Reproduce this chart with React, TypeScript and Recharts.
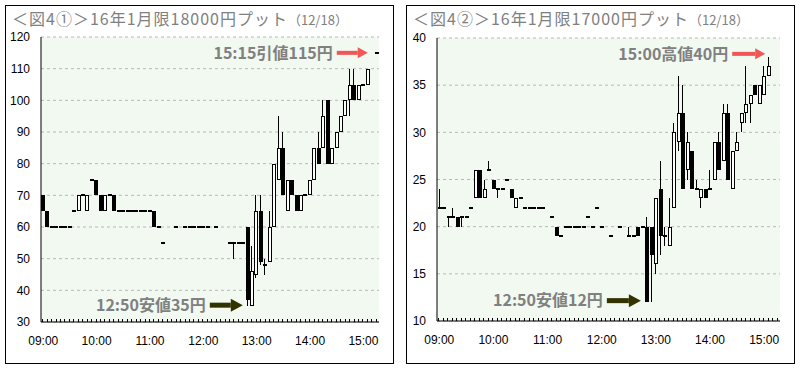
import React from "react";
import {
  ComposedChart,
  Bar,
  XAxis,
  YAxis,
  CartesianGrid,
  ReferenceDot,
} from "recharts";

// 5-minute bars, 09:00 - 15:15
const times = [
  "09:00", "09:05", "09:10", "09:15", "09:20", "09:25", "09:30", "09:35", "09:40", "09:45", "09:50", "09:55",
  "10:00", "10:05", "10:10", "10:15", "10:20", "10:25", "10:30", "10:35", "10:40", "10:45", "10:50", "10:55",
  "11:00", "11:05", "11:10", "11:15", "11:20", "11:25", "11:30", "11:35", "11:40", "11:45", "11:50", "11:55",
  "12:00", "12:05", "12:10", "12:15", "12:20", "12:25", "12:30", "12:35", "12:40", "12:45", "12:50", "12:55",
  "13:00", "13:05", "13:10", "13:15", "13:20", "13:25", "13:30", "13:35", "13:40", "13:45", "13:50", "13:55",
  "14:00", "14:05", "14:10", "14:15", "14:20", "14:25", "14:30", "14:35", "14:40", "14:45", "14:50", "14:55",
  "15:00", "15:05", "15:10", "15:15",
];

type OHLC = [number, number, number, number] | null; // open, high, low, close

// <図4①> 16年1月限18000円プット
const put18000: OHLC[] = [
  [70, 70, 65, 65], [65, 65, 60, 60], [60, 60, 60, 60], [60, 60, 60, 60], [60, 60, 60, 60], [60, 60, 60, 60],
  [60, 60, 60, 60], [65, 65, 65, 65], [65, 70, 65, 70], [70, 70, 70, 70], [65, 70, 65, 70], [75, 75, 75, 75],
  [75, 75, 70, 70], [70, 70, 65, 65], [65, 70, 65, 70], [70, 70, 70, 70], [70, 70, 65, 65], [65, 65, 65, 65],
  [65, 65, 65, 65], [65, 65, 65, 65], [65, 65, 65, 65], [65, 65, 65, 65], [65, 65, 65, 65], [65, 65, 65, 65],
  [65, 65, 65, 65], [65, 65, 60, 60], [60, 60, 60, 60], [55, 55, 55, 55], null, null,
  [60, 60, 60, 60], null, [60, 60, 60, 60], [60, 60, 60, 60], [60, 60, 60, 60], [60, 60, 60, 60],
  [60, 60, 60, 60], [60, 60, 60, 60], null, [60, 60, 60, 60], null, null,
  [55, 55, 55, 55], [55, 55, 50, 55], [55, 55, 55, 55], [55, 55, 55, 55], [60, 60, 35, 37], [35, 54, 35, 46],
  [45, 70, 44, 65], [65, 70, 48, 49], [48, 50, 45, 48], [49, 65, 49, 60], [60, 80, 60, 80], [75, 95, 75, 85],
  [85, 90, 70, 70], [65, 75, 65, 75], [75, 75, 70, 70], [70, 70, 65, 65], [65, 70, 65, 70], [70, 70, 70, 70],
  [70, 75, 70, 75], [75, 85, 75, 85], [85, 90, 80, 80], [85, 100, 85, 95], [100, 100, 80, 80], [80, 85, 80, 85],
  [85, 90, 85, 90], [90, 95, 90, 95], [95, 100, 95, 100], [100, 110, 95, 105], [105, 110, 100, 100], [100, 105, 100, 105],
  [105, 105, 105, 105], [105, 110, 105, 110], null, [115, 115, 115, 115],
];

// <図4②> 16年1月限17000円プット
const put17000: OHLC[] = [
  [22, 24, 22, 22], [22, 22, 22, 22], [21, 21, 20, 21], [21, 22, 21, 21], [21, 21, 20, 20], [21, 21, 20, 21],
  [21, 21, 21, 21], [22, 22, 22, 22], [23, 26, 23, 26], [26, 26, 23, 23], [23, 25, 23, 24], [26, 27, 26, 26],
  [25, 25, 24, 24], [24, 24, 23, 24], [24, 24, 24, 24], [25, 25, 25, 25], [24, 24, 23, 23], [22, 23, 22, 23],
  [23, 23, 23, 23], [22, 22, 22, 22], [22, 22, 22, 22], [22, 22, 22, 22], [22, 22, 22, 22], [22, 22, 22, 22],
  null, [21, 21, 21, 21], [20, 20, 19, 19], [19, 19, 19, 19], [20, 20, 20, 20], [20, 20, 20, 20],
  [20, 20, 20, 20], [20, 20, 20, 20], [20, 20, 20, 20], [21, 21, 21, 21], [20, 20, 20, 20], [22, 22, 22, 22],
  [20, 20, 20, 20], null, [19, 19, 19, 19], null, [20, 20, 20, 20], null,
  [19, 20, 19, 19], [19, 19, 19, 19], [20, 20, 19, 19], [20, 20, 20, 20], [20, 21, 12, 12], [20, 20, 12, 17],
  [16, 23, 15, 23], [24, 27, 17, 19], [19, 20, 18, 19], [18, 23, 18, 20], [22, 31, 22, 30], [29, 36, 28, 32],
  [32, 35, 24, 24], [26, 30, 25, 29], [28, 28, 24, 24], [24, 25, 24, 24], [23, 24, 22, 24], [24, 24, 23, 23],
  [24, 26, 24, 24], [25, 29, 25, 29], [29, 30, 26, 26], [27, 33, 27, 32], [32, 33, 25, 25], [24, 28, 24, 28],
  [28, 30, 28, 29], [31, 32, 30, 32], [32, 37, 31, 33], [33, 34, 31, 34], [35, 35, 34, 34], [33, 35, 33, 35],
  [34, 37, 34, 36], [36, 38, 36, 37], null, null,
];

const ticks18000 = [30, 40, 50, 60, 70, 80, 90, 100, 110, 120];
const ticks17000 = [10, 15, 20, 25, 30, 35, 40];

const labelFont = "'Liberation Sans', Arial, sans-serif";
const jpFont = "'Noto Sans CJK JP', sans-serif";

const toRows = (ohlc: OHLC[]) =>
  times.map((t, i) => {
    const v = ohlc[i];
    return v ? { t, o: v[0], h: v[1], l: v[2], c: v[3], range: [v[2], v[1]] } : { t };
  });

const Candle = (props: any) => {
  const { x, y, width, height, payload } = props;
  if (!payload || payload.o == null || !isFinite(y)) return <g />;
  const { o, h, l, c } = payload;
  const cx = Math.round(x + width / 2);
  const span = h - l;
  const py = (v: number) => (span > 0 ? y + ((h - v) / span) * height : y);
  const yh = Math.round(y);
  const yl = Math.round(y + (span > 0 ? height : 0));
  const yo = Math.round(py(o));
  const yc = Math.round(py(c));
  const top = Math.min(yo, yc);
  const bot = Math.max(yo, yc);

  if (span === 0) {
    return <rect x={cx - 2} y={yh - 1} width={4} height={2} fill="#000" shapeRendering="crispEdges" />;
  }
  return (
    <g shapeRendering="crispEdges">
      <rect x={cx - 1} y={yh} width={1} height={yl - yh} fill="#000" />
      {bot - top < 1 ? (
        <rect x={cx - 2} y={top - 1} width={4} height={2} fill="#000" />
      ) : c > o ? (
        <rect x={cx - 1.5} y={top + 0.5} width={3} height={bot - top - 1} fill="#fff" stroke="#000" strokeWidth={1} />
      ) : (
        <rect x={cx - 2} y={top} width={4} height={bot - top} fill="#000" />
      )}
    </g>
  );
};

const TimeTick = (props: any) => {
  const { x, y, payload } = props;
  const label = String(payload.value);
  const tx = Math.round(x) - 0.5;
  return (
    <g>
      <line x1={tx} x2={tx} y1={y} y2={y - 3} stroke="#000" strokeWidth={1} />
      {label.endsWith(":00") && (
        <text x={x} y={y + 19} dy="0.35em" textAnchor="middle" fontSize={12} fontFamily={labelFont} fill="#000">
          {label}
        </text>
      )}
    </g>
  );
};

interface Note {
  t: string;
  v: number;
  text: string;
  color: string;
  dx: number;
  dy: number;
  len: number;
  thick: number;
  headLen: number;
  headH: number;
}

const callout = (n: Note) => (props: any) => {
  const { cx, cy } = props;
  const tip = cx + n.dx;
  const ay = cy + n.dy;
  const start = tip - n.len;
  const neck = tip - n.headLen;
  return (
    <g>
      <rect x={start} y={ay - n.thick / 2} width={neck - start} height={n.thick} fill={n.color} />
      <polygon
        points={`${neck},${ay - n.headH / 2} ${tip},${ay} ${neck},${ay + n.headH / 2}`}
        fill={n.color}
      />
      <text
        x={start - 4}
        y={ay}
        dy="0.36em"
        textAnchor="end"
        fontSize={16}
        fontWeight="bold"
        fontFamily={jpFont}
        fill="#808080"
      >
        {n.text}
      </text>
    </g>
  );
};

const RED = "#f25757";
const OLIVE = "#333300";

const notes18000: Note[] = [
  { t: "15:15", v: 115, text: "15:15引値115円", color: RED, dx: -9, dy: 0, len: 31, thick: 4, headLen: 10, headH: 11 },
  { t: "12:50", v: 35, text: "12:50安値35円", color: OLIVE, dx: -5, dy: -1, len: 33, thick: 5, headLen: 12, headH: 13 },
];

const notes17000: Note[] = [
  { t: "15:00", v: 38, text: "15:00高値40円", color: RED, dx: 1, dy: -3, len: 33, thick: 4, headLen: 10, headH: 11 },
  { t: "12:50", v: 12, text: "12:50安値12円", color: OLIVE, dx: -6, dy: -1.5, len: 34, thick: 5, headLen: 12, headH: 13 },
];

interface PanelProps {
  left: number;
  fig: string;
  title: string;
  data: OHLC[];
  domain: [number, number];
  ticks: number[];
  yWidth: number;
  margin: { top: number; right: number; bottom: number; left: number };
  notes: Note[];
}

const Panel: React.FC<PanelProps> = ({ left, fig, title, data, domain, ticks, yWidth, margin, notes }) => (
  <div
    style={{
      position: "absolute",
      left,
      top: 5,
      width: 387,
      height: 357,
      border: "1px solid #000",
      background: "#fff",
    }}
  >
    <ComposedChart width={387} height={357} data={toRows(data)} margin={margin} barCategoryGap={0}>
      <CartesianGrid
        vertical={false}
        stroke="#b8b8b8"
        strokeDasharray="3 3"
        fill="#f1f9f1"
        fillOpacity={1}
      />
      <XAxis
        dataKey="t"
        interval={0}
        height={30}
        tickSize={0}
        tickMargin={0}
        tickLine={false}
        axisLine={{ stroke: "#000" }}
        tick={<TimeTick />}
      />
      <XAxis xAxisId="top" dataKey="t" orientation="top" height={0} tick={false} tickLine={false} axisLine={{ stroke: "#808080" }} />
      <YAxis
        domain={domain}
        ticks={ticks}
        allowDataOverflow
        width={yWidth}
        tickLine={false}
        tickMargin={5}
        axisLine={{ stroke: "#000" }}
        tick={{ fill: "#000", fontSize: 12, fontFamily: labelFont }}
      />
      <YAxis yAxisId="r" orientation="right" domain={domain} width={0} tick={false} tickLine={false} axisLine={{ stroke: "#808080" }} />
      <Bar dataKey="range" shape={<Candle />} isAnimationActive={false} />
      {notes.map((n) => (
        <ReferenceDot key={n.text} x={n.t} y={n.v} shape={callout(n)} ifOverflow="visible" />
      ))}
    </ComposedChart>
    <div
      style={{
        position: "absolute",
        left: 6,
        top: 4,
        height: 16,
        lineHeight: "16px",
        fontSize: 16,
        letterSpacing: 1,
        color: "#808080",
        fontFamily: jpFont,
        whiteSpace: "nowrap",
      }}
    >
      {fig}
      {title}
      <span style={{ fontSize: 13, letterSpacing: 0 }}>（12/18）</span>
    </div>
  </div>
);

export default function App() {
  return (
    <div style={{ position: "absolute", left: 0, top: 0, width: 800, height: 370, background: "#fff" }}>
      <Panel
        left={5}
        fig="＜図4①＞"
        title="16年1月限18000円プット"
        data={put18000}
        domain={[30, 120]}
        ticks={ticks18000}
        yWidth={35}
        margin={{ top: 31, right: 14, bottom: 11, left: 0 }}
        notes={notes18000}
      />
      <Panel
        left={406}
        fig="＜図4②＞"
        title="16年1月限17000円プット"
        data={put17000}
        domain={[10, 40]}
        ticks={ticks17000}
        yWidth={30}
        margin={{ top: 32, right: 14, bottom: 12, left: 0 }}
        notes={notes17000}
      />
    </div>
  );
}
